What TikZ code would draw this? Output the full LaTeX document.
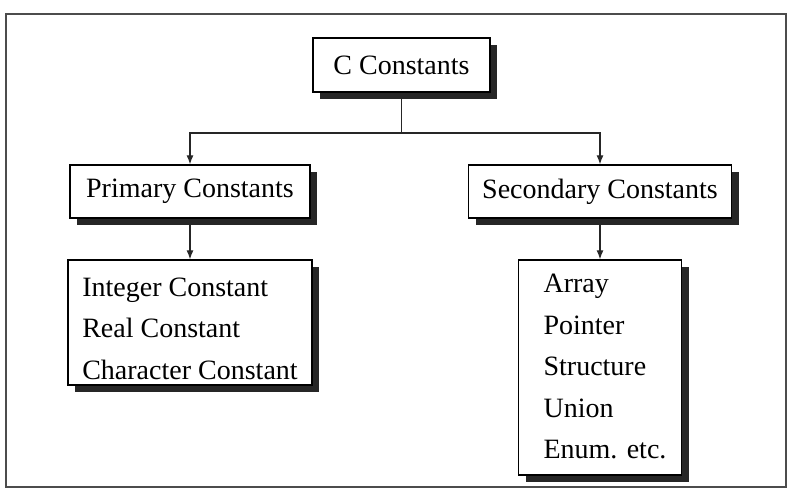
\documentclass[tikz,border=0pt]{standalone}
\usepackage{fontspec}
\setmainfont{Liberation Serif}
\usetikzlibrary{arrows.meta,shadows}
\newcommand{\mylist}[3]{\hspace*{#1}\raisebox{#2}[\height][\depth]{\begin{tabular}{@{}l@{}}#3\end{tabular}}}
\begin{document}
\begin{tikzpicture}[x=1pt,y=-1pt,
  box/.style={draw=black,line width=1.3pt,fill=white,inner sep=0pt,
    font=\fontsize{28}{41.5}\selectfont,
    drop shadow={shadow xshift=7pt,shadow yshift=-7pt,fill=black!85,opacity=1}},
  listbox/.style={box},
  conn/.style={line width=1.2pt,draw=black!85},
  arr/.style={conn,-{Latex[length=9pt,width=7pt]}}]
\useasboundingbox (0,0) rectangle (789,499);
\draw[line width=1.3pt,draw=black!70] (6,14) rectangle (786,487);
\node[box,minimum width=177pt,minimum height=54pt] (top) at (401.5,65) {C Constants};
\node[box,minimum width=240pt,minimum height=53pt] (prim) at (190,191.5) {Primary Constants};
\node[box,minimum width=263pt,minimum height=53pt] (sec) at (600,191.5) {Secondary Constants};
\node[listbox,minimum width=244pt,minimum height=125pt] (list1) at (190,322.5)
  {\mylist{0pt}{-7pt}{Integer Constant\\Real Constant\\Character Constant}};
\node[listbox,minimum width=163pt,minimum height=215pt] (list2) at (600,367.5)
  {\mylist{10pt}{0pt}{Array\\Pointer\\Structure\\Union\\Enum. etc.}};
\coordinate (jn) at (401.5,133);
\draw[conn] (top.south) -- (jn);
\draw[arr] (jn) -| (prim.north);
\draw[arr] (jn) -| (sec.north);
\draw[arr] (prim.south) -- (list1.north);
\draw[arr] (sec.south) -- (list2.north);
\end{tikzpicture}
\end{document}
